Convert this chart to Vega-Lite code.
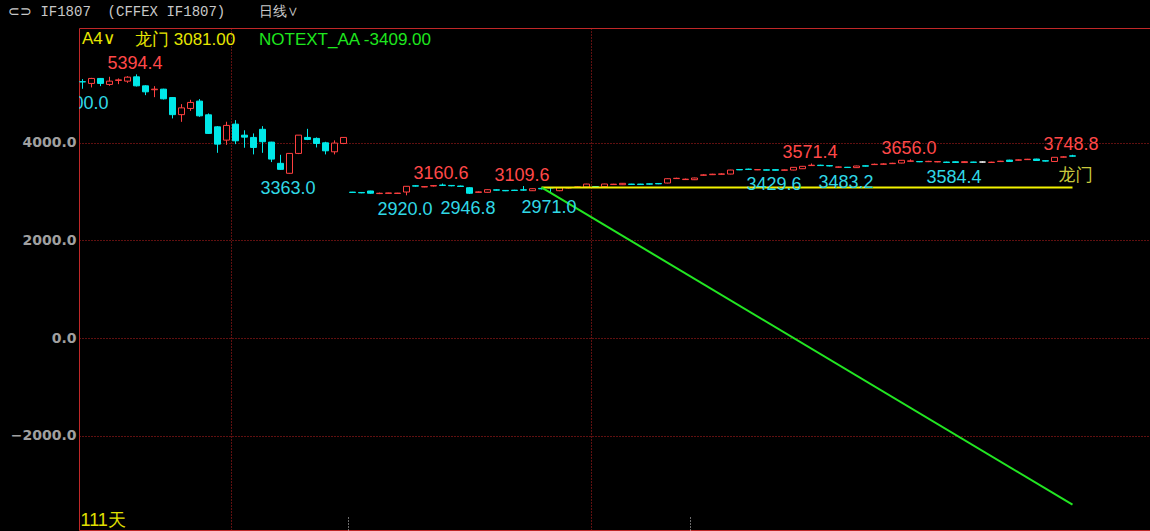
{
  "$schema": "https://vega.github.io/schema/vega-lite/v6.json",
  "width": 1071,
  "height": 502,
  "autosize": {"type": "none"},
  "padding": {"left": 79, "top": 28, "right": 0, "bottom": 1},
  "background": "#000000",
  "config": {
    "view": {"stroke": "#c02828", "strokeWidth": 1},
    "axisY": {
      "labelFont": "DejaVu Sans", "labelFontWeight": "bold", "labelFontSize": 14,
      "labelColor": "#a0a0a0", "labelPadding": 3, "ticks": false, "domain": false,
      "grid": true, "gridColor": "#c02020", "gridDash": [1, 2], "gridWidth": 1
    }
  },
  "title": {
    "text": "⊂⊃ IF1807\u00a0\u00a0(CFFEX\u00a0IF1807)\u00a0\u00a0\u00a0\u00a0日线∨",
    "anchor": "start", "frame": "group", "orient": "top", "offset": 9, "dx": -71,
    "font": "Liberation Mono", "fontSize": 14, "fontWeight": "normal", "color": "#c8c8c8"
  },
  "datasets": {
    "candles": [
      {"i":0,"o":5245,"h":5297,"l":5100,"c":5240},
      {"i":1,"o":5209,"h":5323,"l":5127,"c":5311},
      {"i":2,"o":5311,"h":5320,"l":5153,"c":5209},
      {"i":3,"o":5188,"h":5345,"l":5160,"c":5256},
      {"i":4,"o":5270,"h":5311,"l":5194,"c":5282},
      {"i":5,"o":5256,"h":5358,"l":5221,"c":5337},
      {"i":6,"o":5344,"h":5394.4,"l":5147,"c":5160},
      {"i":7,"o":5160,"h":5170,"l":4969,"c":5037},
      {"i":8,"o":5080,"h":5153,"l":4928,"c":5092},
      {"i":9,"o":5092,"h":5100,"l":4881,"c":4894},
      {"i":10,"o":4920,"h":4930,"l":4493,"c":4570},
      {"i":11,"o":4570,"h":4785,"l":4423,"c":4709},
      {"i":12,"o":4697,"h":4874,"l":4648,"c":4820},
      {"i":13,"o":4847,"h":4888,"l":4526,"c":4546},
      {"i":14,"o":4567,"h":4595,"l":4180,"c":4186},
      {"i":15,"o":4321,"h":4335,"l":3789,"c":3967},
      {"i":16,"o":4049,"h":4425,"l":3953,"c":4350},
      {"i":17,"o":4376,"h":4458,"l":3967,"c":4035},
      {"i":18,"o":4150,"h":4250,"l":3893,"c":4110},
      {"i":19,"o":4104,"h":4186,"l":3757,"c":3899},
      {"i":20,"o":4270,"h":4335,"l":3789,"c":4016},
      {"i":21,"o":4008,"h":4015,"l":3600,"c":3661},
      {"i":22,"o":3574,"h":3749,"l":3445,"c":3451},
      {"i":23,"o":3370,"h":3777,"l":3363,"c":3777},
      {"i":24,"o":3777,"h":4151,"l":3763,"c":4151},
      {"i":25,"o":4104,"h":4280,"l":4049,"c":4063},
      {"i":26,"o":4084,"h":4104,"l":3899,"c":3981},
      {"i":27,"o":3994,"h":4015,"l":3757,"c":3830},
      {"i":28,"o":3810,"h":4043,"l":3757,"c":3988},
      {"i":29,"o":3981,"h":4104,"l":3967,"c":4104},
      {"i":30,"o":2985,"h":2990,"l":2970,"c":2978},
      {"i":31,"o":2978,"h":2982,"l":2962,"c":2970},
      {"i":32,"o":3008,"h":3012,"l":2955,"c":2962},
      {"i":33,"o":2955,"h":2975,"l":2945,"c":2962},
      {"i":34,"o":2960,"h":2972,"l":2955,"c":2968},
      {"i":35,"o":2958,"h":2970,"l":2950,"c":2965},
      {"i":36,"o":2987,"h":3108,"l":2920,"c":3104},
      {"i":37,"o":3115,"h":3125,"l":3100,"c":3108},
      {"i":38,"o":3090,"h":3105,"l":3085,"c":3098},
      {"i":39,"o":3110,"h":3130,"l":3100,"c":3118},
      {"i":40,"o":3130,"h":3160.6,"l":3110,"c":3122},
      {"i":41,"o":3122,"h":3130,"l":3105,"c":3114},
      {"i":42,"o":3110,"h":3118,"l":3092,"c":3100},
      {"i":43,"o":3075,"h":3085,"l":2946.8,"c":2962},
      {"i":44,"o":2980,"h":3000,"l":2972,"c":2990},
      {"i":45,"o":2981,"h":3040,"l":2975,"c":3035},
      {"i":46,"o":3032,"h":3040,"l":3018,"c":3025},
      {"i":47,"o":3020,"h":3028,"l":3005,"c":3012},
      {"i":48,"o":3025,"h":3032,"l":3010,"c":3018},
      {"i":49,"o":3032,"h":3109.6,"l":3015,"c":3026},
      {"i":50,"o":3014,"h":3060,"l":3008,"c":3055},
      {"i":51,"o":3062,"h":3068,"l":3040,"c":3052},
      {"i":52,"o":3080,"h":3085,"l":2971,"c":3070},
      {"i":53,"o":3014,"h":3080,"l":3005,"c":3075},
      {"i":54,"o":3070,"h":3085,"l":3062,"c":3078},
      {"i":55,"o":3084,"h":3098,"l":3076,"c":3092},
      {"i":56,"o":3090,"h":3155,"l":3085,"c":3150},
      {"i":57,"o":3098,"h":3105,"l":3085,"c":3092},
      {"i":58,"o":3096,"h":3155,"l":3090,"c":3151},
      {"i":59,"o":3140,"h":3155,"l":3135,"c":3148},
      {"i":60,"o":3137,"h":3170,"l":3130,"c":3165},
      {"i":61,"o":3150,"h":3155,"l":3135,"c":3142},
      {"i":62,"o":3150,"h":3155,"l":3132,"c":3140},
      {"i":63,"o":3155,"h":3160,"l":3140,"c":3148},
      {"i":64,"o":3162,"h":3168,"l":3148,"c":3154},
      {"i":65,"o":3171,"h":3265,"l":3165,"c":3259},
      {"i":66,"o":3262,"h":3280,"l":3255,"c":3268},
      {"i":67,"o":3242,"h":3262,"l":3235,"c":3250},
      {"i":68,"o":3239,"h":3280,"l":3232,"c":3274},
      {"i":69,"o":3330,"h":3350,"l":3322,"c":3337},
      {"i":70,"o":3342,"h":3360,"l":3335,"c":3352},
      {"i":71,"o":3350,"h":3370,"l":3345,"c":3358},
      {"i":72,"o":3355,"h":3442,"l":3350,"c":3437},
      {"i":73,"o":3448,"h":3455,"l":3435,"c":3440},
      {"i":74,"o":3455,"h":3465,"l":3440,"c":3450},
      {"i":75,"o":3440,"h":3452,"l":3435,"c":3446},
      {"i":76,"o":3442,"h":3448,"l":3432,"c":3434},
      {"i":77,"o":3445,"h":3450,"l":3429.6,"c":3432},
      {"i":78,"o":3432,"h":3448,"l":3431,"c":3440},
      {"i":79,"o":3437,"h":3498,"l":3432,"c":3492},
      {"i":80,"o":3464,"h":3520,"l":3458,"c":3513},
      {"i":81,"o":3528,"h":3571.4,"l":3520,"c":3536},
      {"i":82,"o":3536,"h":3545,"l":3520,"c":3528},
      {"i":83,"o":3528,"h":3535,"l":3512,"c":3520},
      {"i":84,"o":3494,"h":3508,"l":3488,"c":3500},
      {"i":85,"o":3494,"h":3500,"l":3483.2,"c":3488},
      {"i":86,"o":3486,"h":3525,"l":3484,"c":3519},
      {"i":87,"o":3524,"h":3530,"l":3510,"c":3516},
      {"i":88,"o":3548,"h":3568,"l":3540,"c":3555},
      {"i":89,"o":3555,"h":3575,"l":3548,"c":3562},
      {"i":90,"o":3568,"h":3585,"l":3560,"c":3576},
      {"i":91,"o":3580,"h":3642,"l":3575,"c":3636},
      {"i":92,"o":3616,"h":3656,"l":3610,"c":3624},
      {"i":93,"o":3612,"h":3620,"l":3598,"c":3605},
      {"i":94,"o":3608,"h":3625,"l":3600,"c":3615},
      {"i":95,"o":3603,"h":3620,"l":3596,"c":3610},
      {"i":96,"o":3600,"h":3608,"l":3588,"c":3592},
      {"i":97,"o":3606,"h":3612,"l":3584.4,"c":3592},
      {"i":98,"o":3590,"h":3615,"l":3586,"c":3608},
      {"i":99,"o":3600,"h":3606,"l":3588,"c":3594},
      {"i":100,"o":3601,"h":3610,"l":3592,"c":3601},
      {"i":101,"o":3592,"h":3606,"l":3588,"c":3598},
      {"i":102,"o":3610,"h":3625,"l":3604,"c":3618},
      {"i":103,"o":3640,"h":3648,"l":3605,"c":3612},
      {"i":104,"o":3638,"h":3652,"l":3632,"c":3645},
      {"i":105,"o":3650,"h":3665,"l":3645,"c":3658},
      {"i":106,"o":3662,"h":3668,"l":3625,"c":3632},
      {"i":107,"o":3628,"h":3632,"l":3612,"c":3620},
      {"i":108,"o":3612,"h":3702,"l":3606,"c":3697},
      {"i":109,"o":3700,"h":3718,"l":3695,"c":3706},
      {"i":110,"o":3728,"h":3748.8,"l":3712,"c":3720}
    ],
    "lines": [
      {"i":51,"v":3081,"s":"龙门"},
      {"i":110,"v":3081,"s":"龙门"},
      {"i":51,"v":3081,"s":"NOTEXT_AA"},
      {"i":110,"v":-3409,"s":"NOTEXT_AA"}
    ],
    "marks": [
      {"i":0,"v":5100.0,"k":"low"},
      {"i":6,"v":5394.4,"k":"high"},
      {"i":23,"v":3363.0,"k":"low"},
      {"i":36,"v":2920.0,"k":"low"},
      {"i":40,"v":3160.6,"k":"high"},
      {"i":43,"v":2946.8,"k":"low"},
      {"i":49,"v":3109.6,"k":"high"},
      {"i":52,"v":2971.0,"k":"low"},
      {"i":77,"v":3429.6,"k":"low"},
      {"i":81,"v":3571.4,"k":"high"},
      {"i":85,"v":3483.2,"k":"low"},
      {"i":92,"v":3656.0,"k":"high"},
      {"i":97,"v":3584.4,"k":"low"},
      {"i":110,"v":3748.8,"k":"high"}
    ],
    "tags": [
      {"i":110,"v":3081,"t":"龙门"}
    ]
  },
  "encoding": {
    "x": {
      "field": "i", "type": "quantitative",
      "scale": {"domain": [-0.3889, 118.611], "nice": false, "zero": false, "padding": 0},
      "axis": {
        "orient": "bottom",
        "values": [16.5, 29.5, 56.5, 67.5],
        "labels": false, "domain": false,
        "grid": true, "gridColor": "#c02020", "gridDash": [1, 2],
        "gridOpacity": {"condition": {"test": "datum.value == 16.5 || datum.value == 56.5", "value": 1}, "value": 0},
        "ticks": true, "tickColor": "#d8d8d8", "tickDash": [1, 2], "tickSize": -15,
        "tickOpacity": {"condition": {"test": "datum.value == 29.5 || datum.value == 67.5", "value": 1}, "value": 0},
        "title": "111天", "titleX": 1, "titleY": -5, "titleAlign": "left", "titleAnchor": "start",
        "titleBaseline": "alphabetic", "titleFont": "Liberation Sans", "titleFontSize": 18,
        "titleFontWeight": "normal", "titleColor": "#e0e000"
      }
    }
  },
  "layer": [
    {
      "data": {"name": "candles"},
      "mark": {"type": "rule", "strokeWidth": 1},
      "encoding": {
        "y": {"field": "l", "type": "quantitative",
              "scale": {"domain": [-3928, 6343], "nice": false, "zero": false, "padding": 0},
              "axis": {"values": [-2000, 0, 2000, 4000], "format": ".1f", "title": null}},
        "y2": {"field": "h"},
        "stroke": {"condition": [{"test": "datum.c > datum.o", "value": "#ff4040"}, {"test": "datum.c == datum.o", "value": "#ffffff"}], "value": "#00e8e8"}
      }
    },
    {
      "data": {"name": "candles"},
      "mark": {"type": "bar", "width": 6, "strokeWidth": 1},
      "encoding": {
        "y": {"field": "o", "type": "quantitative",
              "scale": {"domain": [-3928, 6343], "nice": false, "zero": false, "padding": 0},
              "axis": {"title": null}},
        "y2": {"field": "c"},
        "stroke": {"condition": [{"test": "datum.c > datum.o", "value": "#ff4040"}, {"test": "datum.c == datum.o", "value": "#ffffff"}], "value": "#00e8e8"},
        "fill": {"condition": [{"test": "datum.c > datum.o", "value": "#000000"}, {"test": "datum.c == datum.o", "value": "#ffffff"}], "value": "#00e8e8"}
      }
    },
    {
      "data": {"name": "lines"},
      "mark": {"type": "line", "strokeWidth": 2},
      "encoding": {
        "y": {"field": "v", "type": "quantitative",
              "scale": {"domain": [-3928, 6343], "nice": false, "zero": false, "padding": 0},
              "axis": {"title": null}},
        "color": {
          "field": "s", "type": "nominal",
          "scale": {"domain": ["龙门", "NOTEXT_AA"], "range": ["#f2f200", "#22e622"]},
          "legend": {
            "orient": "top-left", "offset": 3, "direction": "horizontal", "padding": 0,
            "title": "A4∨", "titleOrient": "left", "titleColor": "#e6e600",
            "titleFont": "Liberation Sans", "titleFontSize": 17, "titleFontWeight": "normal", "titlePadding": 3,
            "labelFont": "Liberation Sans", "labelFontSize": 17, "labelOffset": 0, "labelLimit": 400,
            "symbolSize": 0, "symbolOpacity": 0, "symbolStrokeWidth": 0, "columnPadding": 6,
            "labelExpr": "datum.value == '龙门' ? '龙门 3081.00' : 'NOTEXT_AA -3409.00'",
            "encode": {"labels": {"update": {"fill": {"signal": "datum.value === 'NOTEXT_AA' ? '#1ee61e' : '#e6e600'"}}}}
          }
        }
      }
    },
    {
      "data": {"name": "tags"},
      "mark": {"type": "text", "font": "Noto Sans CJK SC", "fontSize": 17, "fill": "#c8c83c", "align": "center", "baseline": "middle", "dx": 3, "dy": -11},
      "encoding": {
        "y": {"field": "v", "type": "quantitative",
              "scale": {"domain": [-3928, 6343], "nice": false, "zero": false, "padding": 0},
              "axis": {"title": null}},
        "text": {"field": "t"}
      }
    },
    {
      "data": {"name": "marks"},
      "transform": [{"filter": "datum.k == 'high'"}],
      "mark": {"type": "text", "font": "Liberation Sans", "fontSize": 18, "fill": "#ff4848", "align": "center", "baseline": "alphabetic", "dx": -1.5, "dy": -5, "clip": true},
      "encoding": {
        "y": {"field": "v", "type": "quantitative",
              "scale": {"domain": [-3928, 6343], "nice": false, "zero": false, "padding": 0},
              "axis": {"title": null}},
        "text": {"field": "v", "type": "quantitative", "format": ".1f"}
      }
    },
    {
      "data": {"name": "marks"},
      "transform": [{"filter": "datum.k == 'low'"}],
      "mark": {"type": "text", "font": "Liberation Sans", "fontSize": 18, "fill": "#30d8e6", "align": "center", "baseline": "top", "dx": -1.5, "dy": 6, "clip": true},
      "encoding": {
        "y": {"field": "v", "type": "quantitative",
              "scale": {"domain": [-3928, 6343], "nice": false, "zero": false, "padding": 0},
              "axis": {"title": null}},
        "text": {"field": "v", "type": "quantitative", "format": ".1f"}
      }
    }
  ]
}
